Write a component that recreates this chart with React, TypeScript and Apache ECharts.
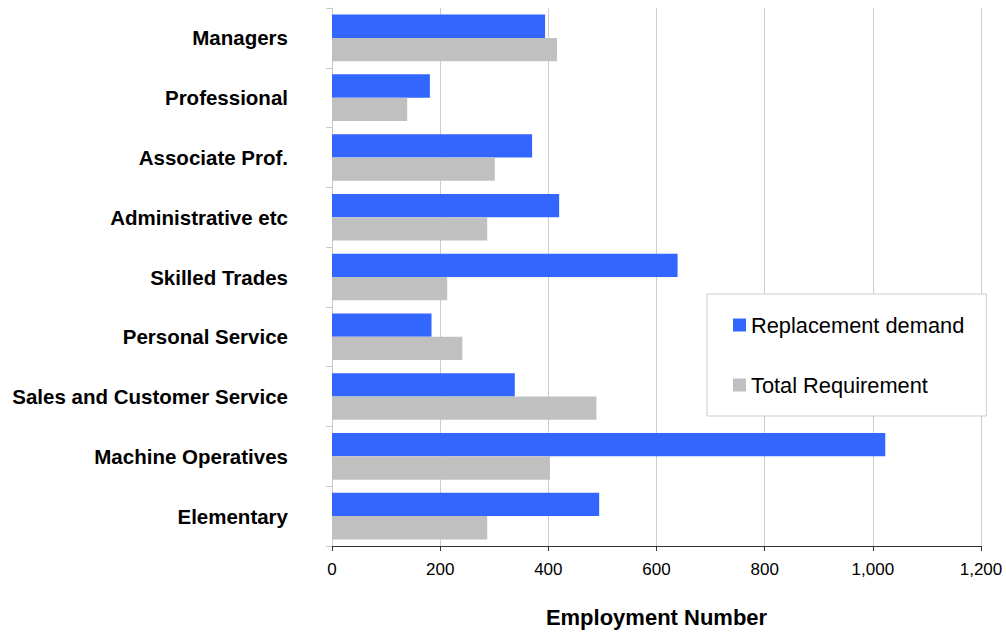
import React, { useEffect, useRef } from "react";
import * as echarts from "echarts";

const categories = [
  "Managers",
  "Professional",
  "Associate Prof.",
  "Administrative etc",
  "Skilled Trades",
  "Personal Service",
  "Sales and Customer Service",
  "Machine Operatives",
  "Elementary",
];
const replacementDemand = [394, 181, 370, 420, 639, 184, 338, 1023, 494];
const totalRequirement = [416, 139, 301, 287, 213, 241, 489, 403, 287];
const xTicks = [0, 200, 400, 600, 800, 1000, 1200];

export default function App() {
  const ref = useRef<HTMLDivElement>(null);
  useEffect(() => {
    if (!ref.current) return;
    const chart = echarts.init(ref.current, undefined, { renderer: "svg" });
    chart.setOption({
      animation: false,
      textStyle: { fontFamily: "Liberation Sans, Arial, sans-serif" },
      grid: { left: 332, right: 25, top: 8, bottom: 85, containLabel: false },
      legend: {
        orient: "vertical",
        left: 707,
        top: 294,
        padding: [20, 22, 20, 26],
        itemGap: 38,
        itemWidth: 13,
        itemHeight: 13,
        icon: "rect",
        borderColor: "#cccccc",
        borderWidth: 1,
        backgroundColor: "#ffffff",
        textStyle: { fontSize: 21.8, color: "#000", fontFamily: "Liberation Sans, Arial, sans-serif" },
        data: ["Replacement demand", "Total Requirement"],
      },
      xAxis: {
        type: "value",
        min: xTicks[0],
        max: xTicks[xTicks.length - 1],
        interval: 200,
        name: "Employment Number",
        nameLocation: "middle",
        nameGap: 60,
        nameTextStyle: { fontSize: 22, fontWeight: "bold", color: "#000" },
        axisLine: { show: true, lineStyle: { color: "#333", width: 1 } },
        axisTick: { show: true, length: 5, lineStyle: { color: "#333" } },
        axisLabel: {
          fontSize: 17,
          color: "#000",
          margin: 15,
          formatter: (v: number) => v.toLocaleString("en-US"),
        },
        splitLine: { show: true, lineStyle: { color: "#cccccc", width: 1 } },
      },
      yAxis: {
        type: "category",
        data: categories,
        inverse: true,
        axisLine: { show: true, lineStyle: { color: "#c8c8c8" } },
        axisTick: { show: true, length: 6, lineStyle: { color: "#c8c8c8" } },
        axisLabel: { fontSize: 20.5, fontWeight: "bold", color: "#000", margin: 44 },
      },
      series: [
        {
          name: "Replacement demand",
          type: "bar",
          data: replacementDemand,
          itemStyle: { color: "#3366ff" },
          barGap: "0%",
          barCategoryGap: "22%",
        },
        {
          name: "Total Requirement",
          type: "bar",
          data: totalRequirement,
          itemStyle: { color: "#c0c0c0" },
          barGap: "0%",
          barCategoryGap: "22%",
        },
      ],
    });
    return () => chart.dispose();
  }, []);
  return <div ref={ref} style={{ width: 1006, height: 633, position: "absolute", left: 0, top: 0 }} />;
}
